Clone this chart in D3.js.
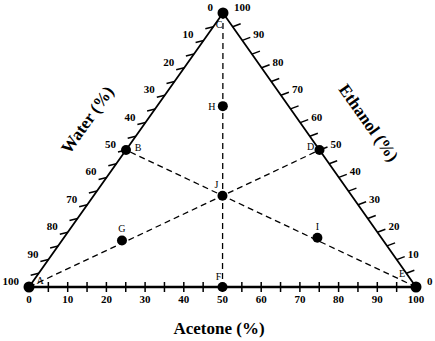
<!DOCTYPE html>
<html>
<head>
<meta charset="utf-8">
<script src="https://cdn.jsdelivr.net/npm/d3@7"></script>
<style>
  body { margin: 0; background: #fff; }
  svg text { font-family: "Liberation Serif", "DejaVu Serif", serif; }
  .tick-label { font-size: 11px; font-weight: bold; }
  .axis-title { font-size: 17px; font-weight: bold; }
  .pt-label { font-size: 10px; }
</style>
</head>
<body>
<div id="chart"></div>
<script>
// composition of every mark: [water, ethanol, acetone] in %
const tickValues = [0, 10, 20, 30, 40, 50, 60, 70, 80, 90, 100];
const minorTicks = [5, 10, 15, 20, 25, 30, 35, 40, 45, 50, 55, 60, 65, 70, 75, 80, 85, 90, 95];

const pointNames = ["A", "C", "E", "B", "D", "F", "J", "H", "G", "I"];
const waterPct   = [100, 0, 0, 50, 0, 50, 33.3, 17, 67.5, 16.5];
const ethanolPct = [0, 100, 0, 50, 50, 0, 33.3, 66, 17, 18];
const acetonePct = [0, 0, 100, 0, 50, 50, 33.3, 17, 15.5, 65.5];

// dashed joins between named points
const joins = [["C", "F"], ["A", "D"], ["E", "B"]];

const width = 435;
const height = 341;

const svg = d3.select("#chart")
    .append("svg")
    .attr("width", width)
    .attr("height", height);

// acetone runs along the base, ethanol lifts toward the apex
const xAcetone = d3.scaleLinear().domain([0, 100]).range([29, 416]);
const xShift = d3.scaleLinear().domain([0, 100]).range([0, 194]);
const yEthanol = d3.scaleLinear().domain([0, 100]).range([287, 13]);

function project(water, ethanol, acetone) {
    return [xAcetone(acetone) + xShift(ethanol), yEthanol(ethanol)];
}

const points = pointNames.map((name, i) => {
    const [x, y] = project(waterPct[i], ethanolPct[i], acetonePct[i]);
    return { name, x, y };
});
const byName = Object.fromEntries(points.map(d => [d.name, d]));

const A = byName.A, C = byName.C, E = byName.E;

// label placement relative to each dot
const labelOffset = {
    A: [11, -3], C: [-4, 15], E: [-14, -10], B: [12, 1], D: [-9, 0],
    F: [-4, -7], J: [-6, -8], H: [-11, 4], G: [0, -8], I: [0, -8]
};

// dashed construction lines
svg.append("g")
    .selectAll("line")
    .data(joins)
    .enter()
    .append("line")
    .attr("x1", d => byName[d[0]].x)
    .attr("y1", d => byName[d[0]].y)
    .attr("x2", d => byName[d[1]].x)
    .attr("y2", d => byName[d[1]].y)
    .attr("stroke", "#000")
    .attr("stroke-width", 1.3)
    .attr("stroke-dasharray", "6,4");

// triangle edges
svg.append("line")
    .attr("x1", A.x).attr("y1", A.y).attr("x2", E.x).attr("y2", E.y)
    .attr("stroke", "#000").attr("stroke-width", 2.6);
svg.append("path")
    .attr("d", d3.line()([[A.x, A.y], [C.x, C.y], [E.x, E.y]]))
    .attr("fill", "none")
    .attr("stroke", "#000")
    .attr("stroke-width", 1.8);

const ticks = svg.append("g").attr("stroke", "#000").attr("stroke-width", 1.5);

// bottom: acetone ticks cross the base
ticks.selectAll(".tb")
    .data(minorTicks)
    .enter()
    .append("line")
    .attr("x1", d => project(100 - d, 0, d)[0])
    .attr("x2", d => project(100 - d, 0, d)[0])
    .attr("y1", A.y - 5)
    .attr("y2", A.y + 5);

// left: water ticks point outward to the left
ticks.selectAll(".tl")
    .data(minorTicks)
    .enter()
    .append("line")
    .attr("x1", d => project(d, 100 - d, 0)[0])
    .attr("y1", d => project(d, 100 - d, 0)[1])
    .attr("x2", d => project(d, 100 - d, 0)[0] - 8)
    .attr("y2", d => project(d, 100 - d, 0)[1] + 2);

// right: ethanol ticks point outward to the right
ticks.selectAll(".tr")
    .data(minorTicks)
    .enter()
    .append("line")
    .attr("x1", d => project(0, d, 100 - d)[0])
    .attr("y1", d => project(0, d, 100 - d)[1])
    .attr("x2", d => project(0, d, 100 - d)[0] + 8)
    .attr("y2", d => project(0, d, 100 - d)[1] - 3);

// tick labels
svg.append("g").selectAll("text")
    .data(tickValues)
    .enter()
    .append("text")
    .attr("class", "tick-label")
    .attr("x", d => project(100 - d, 0, d)[0])
    .attr("y", A.y + 16)
    .attr("text-anchor", "middle")
    .text(d => d);

svg.append("g").selectAll("text")
    .data(tickValues)
    .enter()
    .append("text")
    .attr("class", "tick-label")
    .attr("x", d => project(d, 100 - d, 0)[0] - 10)
    .attr("y", d => project(d, 100 - d, 0)[1] - 2)
    .attr("text-anchor", "end")
    .text(d => d);

svg.append("g").selectAll("text")
    .data(tickValues)
    .enter()
    .append("text")
    .attr("class", "tick-label")
    .attr("x", d => project(0, d, 100 - d)[0] + 11)
    .attr("y", d => project(0, d, 100 - d)[1] - 2)
    .attr("text-anchor", "start")
    .text(d => d);

// axis titles
svg.append("text")
    .attr("class", "axis-title")
    .attr("text-anchor", "middle")
    .attr("transform", "translate(92,123) rotate(-54.7)")
    .text("Water (%)");

svg.append("text")
    .attr("class", "axis-title")
    .attr("text-anchor", "middle")
    .attr("transform", "translate(364,126) rotate(54.7)")
    .text("Ethanol (%)");

svg.append("text")
    .attr("class", "axis-title")
    .attr("x", 219)
    .attr("y", 334)
    .attr("text-anchor", "middle")
    .text("Acetone (%)");

// dots and their letters
svg.append("g").selectAll("circle")
    .data(points)
    .enter()
    .append("circle")
    .attr("cx", d => d.x)
    .attr("cy", d => d.y)
    .attr("r", d => ["A", "C", "E"].includes(d.name) ? 5.5 : 5)
    .attr("fill", "#000");

svg.append("g").selectAll("text")
    .data(points)
    .enter()
    .append("text")
    .attr("class", "pt-label")
    .attr("x", d => d.x + labelOffset[d.name][0])
    .attr("y", d => d.y + labelOffset[d.name][1])
    .attr("text-anchor", "middle")
    .text(d => d.name);
</script>
</body>
</html>
